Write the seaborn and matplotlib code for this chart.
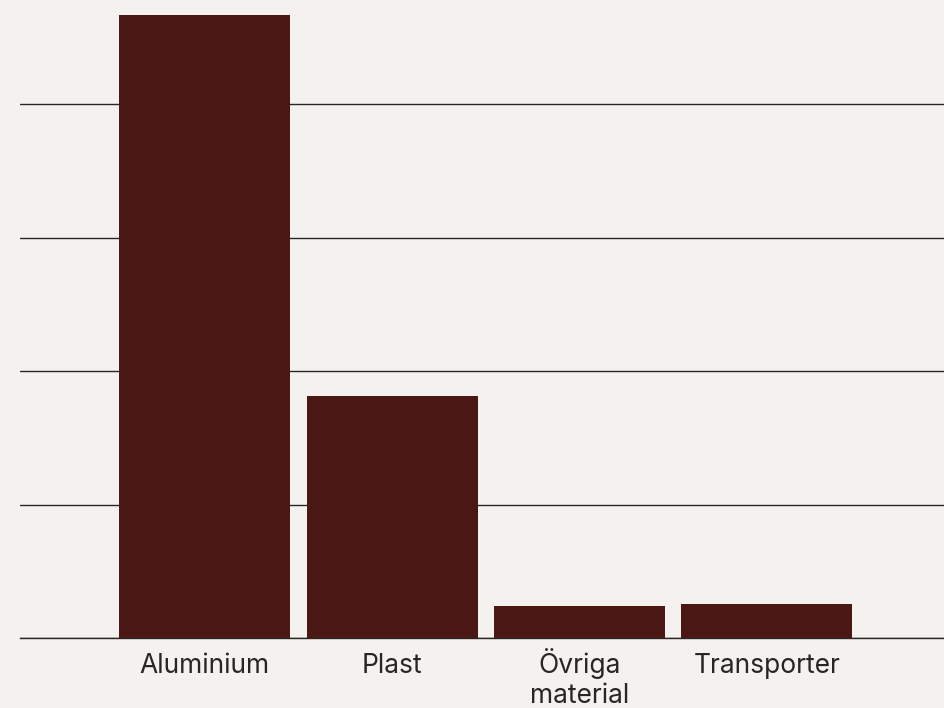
import pandas as pd
import matplotlib.pyplot as plt
import seaborn as sns

# --- DATA ---
categories = ["Aluminium", "Plast", "Övriga\nmaterial", "Transporter"]
values = [4.67, 1.81, 0.24, 0.255]

BG = "#f5f1ee"
BAR = "#4a1714"
LINE = "#2a2626"

df = pd.DataFrame({"cat": categories, "val": values})

sns.set_theme(style="white")
plt.rcParams["font.family"] = ["Inter", "DejaVu Sans"]

fig = plt.figure(figsize=(9.45, 7.08), dpi=100, facecolor=BG)
ax = fig.add_axes([20 / 945, (708 - 638) / 708, 925 / 945, 638 / 708])
ax.set_facecolor(BG)

sns.barplot(data=df, x="cat", y="val", color=BAR, saturation=1, width=0.912,
            linewidth=0, ax=ax, zorder=3)

ax.set_xlim(-0.985, 3.95)
ax.set_ylim(0, 638 / 133.5)
ax.set_yticks([0, 1, 2, 3, 4])
ax.set_yticklabels([])
ax.yaxis.grid(True, color=LINE, linewidth=1.0)
ax.set_axisbelow(True)
for s in ["top", "right", "left"]:
    ax.spines[s].set_visible(False)
ax.spines["bottom"].set_color(LINE)
ax.spines["bottom"].set_linewidth(1.0)

# category labels: every line placed on its own baseline so the
# first lines line up like in the original
ax.set_xticklabels([])
ax.tick_params(axis="both", length=0)
for i, cat in enumerate(categories):
    for j, line in enumerate(cat.split("\n")):
        ax.annotate(line, xy=(i, 0), xycoords=("data", "axes fraction"),
                    xytext=(0, -35 - 30 * j), textcoords="offset pixels",
                    ha="center", va="baseline", fontsize=19, color="#262626",
                    annotation_clip=False)
ax.set_xlabel("")
ax.set_ylabel("")

fig.savefig("out.png", dpi=100, facecolor=BG)
